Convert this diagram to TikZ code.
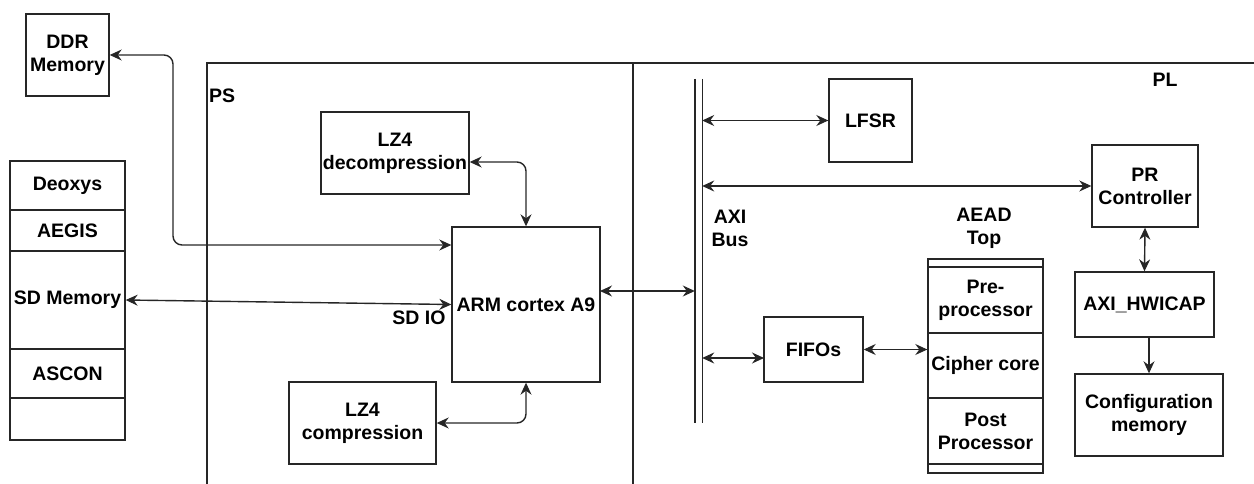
\documentclass[tikz,border=0pt]{standalone}
\usepackage{fontspec}
\setmainfont{Liberation Sans}
\usetikzlibrary{arrows.meta}
\begin{document}
\begin{tikzpicture}[x=1pt,y=-1pt,
  every node/.style={font=\bfseries\fontsize{19.5}{23}\selectfont, align=center, inner sep=0pt, text=black},
  box/.style={draw=black!85, line width=1.4pt, rectangle},
  link/.style={draw=black!85, line width=1.4pt},
  biarrow/.style={link, arrows={Stealth[length=12pt,width=11pt,inset=4pt,line width=1pt]-Stealth[length=12pt,width=11pt,inset=4pt,line width=1pt]}},
  onearrow/.style={link, arrows={-Stealth[length=12pt,width=11pt,inset=4pt,line width=1pt]}}]
\useasboundingbox (0,0) rectangle (1254,484);

% Zynq frame: PS and PL regions
\draw[link] (207,490) -- (207,63) -- (1260,63);
\draw[link] (633,63) -- (633,490);
\node[anchor=west] (pslabel) at (209,96) {PS};
\node (pllabel) at (1165,80) {PL};

% external memory and algorithm storage
\node[box, minimum width=83pt, minimum height=82pt] (ddr) at (67.5,55) {DDR\\Memory};
\node[box, minimum width=115pt, minimum height=49pt] (deoxys) at (67.5,185.5) {Deoxys};
\node[box, minimum width=115pt, minimum height=41pt] (aegis) at (67.5,230.5) {AEGIS};
\node[box, minimum width=115pt, minimum height=98pt] (sdmem) at (67.5,300) {SD Memory};
\node[box, minimum width=115pt, minimum height=49pt] (ascon) at (67.5,373.5) {ASCON};
\node[box, minimum width=115pt, minimum height=42pt] (stackend) at (67.5,419) {};

% processing system
\node[box, minimum width=148pt, minimum height=82pt] (lzd) at (395,153) {LZ4\\decompression};
\node[box, minimum width=147pt, minimum height=82pt] (lzc) at (362.5,423) {LZ4\\compression};
\node[box, minimum width=148pt, minimum height=155pt] (arm) at (526,304.5) {ARM cortex A9};
\node (sdio) at (419,318) {SD IO};

% programmable logic
\node[minimum width=7pt, minimum height=344pt] (bus) at (698.5,251) {};
\draw[link] (bus.north west) -- (bus.south west);
\draw[link] (bus.north east) -- (bus.south east);
\node (buslabel) at (730,228) {AXI\\Bus};

\node[box, minimum width=83pt, minimum height=83pt] (lfsr) at (870.5,120.5) {LFSR};
\node[box, minimum width=106pt, minimum height=82pt] (pr) at (1145,186) {PR\\Controller};
\node[box, minimum width=99pt, minimum height=65pt] (fifo) at (813.5,349.5) {FIFOs};
\node[box, minimum width=139pt, minimum height=65pt] (hw) at (1144.5,304.5) {AXI\_HWICAP};
\node[box, minimum width=148pt, minimum height=82pt] (cfg) at (1149,415) {Configuration\\memory};

\node (aeadlabel) at (984,228) {AEAD\\Top};
\node[box, minimum width=115pt, minimum height=214pt] (aead) at (985.5,366) {};
\node[box, minimum width=115pt, minimum height=66pt] (pre) at (985.5,300) {Pre-\\processor};
\node[box, minimum width=115pt, minimum height=65pt] (cipher) at (985.5,365.5) {Cipher core};
\node[box, minimum width=115pt, minimum height=66pt] (post) at (985.5,431) {Post\\Processor};

% connections
\coordinate (ddrbend) at (173,245);
\draw[biarrow, rounded corners=9pt] (ddr.east) -| (ddrbend) -- (arm.west |- ddrbend);
\draw[biarrow, rounded corners=9pt] ([yshift=-9pt]lzd.east) -| (arm.north);
\draw[biarrow, rounded corners=9pt] (lzc.east) -| (arm.south);
\draw[biarrow] (sdmem.east) -- (arm.west);
\coordinate (armbus) at (600,291);
\draw[biarrow] (armbus) -- (bus.west |- armbus);
\draw[biarrow] (bus.east |- lfsr.west) -- (lfsr.west);
\draw[biarrow] (bus.east |- pr.west) -- (pr.west);
\coordinate (fifoin) at (764,358);
\draw[biarrow] (bus.east |- fifoin) -- (fifoin);
\draw[biarrow] (fifo.east) -- (fifo.east -| aead.west);
\draw[biarrow] (pr.south) -- (hw.north);
\draw[onearrow] (cfg.north |- hw.south) -- (cfg.north);
\end{tikzpicture}
\end{document}
